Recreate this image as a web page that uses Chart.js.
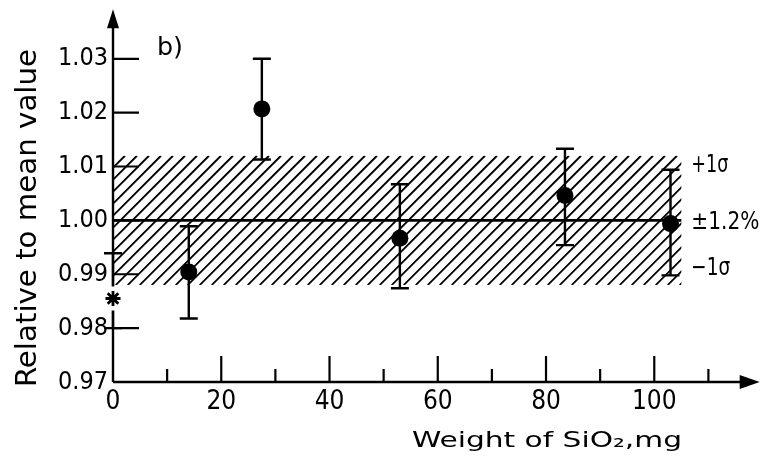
<!DOCTYPE html>
<html>
<head>
<meta charset="utf-8">
<script src="https://cdn.jsdelivr.net/npm/chart.js@4/dist/chart.umd.min.js"></script>
<style>
  html, body { margin: 0; padding: 0; background: #fff; }
  canvas { display: block; }
</style>
</head>
<body>
<canvas id="c" width="762" height="463"></canvas>
<script>
// ---- data ----
const xValues   = [14, 27.5, 53, 83.5, 103];
const yValues   = [0.9904, 1.0207, 0.9967, 1.0046, 0.9994];
const errHigh   = [0.9989, 1.0300, 1.0067, 1.0133, 1.0094];
const errLow    = [0.9818, 1.0113, 0.9874, 0.9954, 0.9898];

const starX     = [0];
const starY     = [0.9855];
const starHigh  = [0.9939];
const starLow   = [0.9800];

const meanValue = 1.00;
const bandHigh  = 1.012;
const bandLow   = 0.988;
const bandEnd   = 105;

const xTickValues  = [0, 20, 40, 60, 80, 100];
const xTickLabels  = ['0', '20', '40', '60', '80', '100'];
const xMinorTicks  = [10, 30, 50, 70, 90, 110];
const yTickValues  = [0.97, 0.98, 0.99, 1.00, 1.01, 1.02, 1.03];
const yTickLabels  = ['0.97', '0.98', '0.99', '1.00', '1.01', '1.02', '1.03'];

const xTitle = 'Weight of SiO\u2082,mg';
const yTitle = 'Relative to mean value';
const panelLabel = 'b)';
const bandLabels = ['+1\u03c3', '\u00b11.2%', '\u22121\u03c3'];
const bandLabelValues = [1.0107, 1.0000, 0.9916];

// ---- styling ----
const FONT = '"Liberation Sans Narrow", "DejaVu Sans Condensed", "Liberation Sans", sans-serif';
const INK = '#000';

function fitText(ctx, text, x, y, width, size, align) {
  ctx.save();
  ctx.font = size + 'px ' + FONT;
  const w = ctx.measureText(text).width;
  const sx = width / w;
  ctx.translate(x, y);
  ctx.scale(sx, 1);
  ctx.textBaseline = 'alphabetic';
  ctx.textAlign = 'left';
  let ox = 0;
  if (align === 'center') ox = -w / 2;
  else if (align === 'right') ox = -w;
  ctx.fillText(text, ox, 0);
  ctx.restore();
}

const drawPlugin = {
  id: 'drawPlugin',
  beforeDatasetsDraw(chart) {
    const ctx = chart.ctx;
    const xs = chart.scales.x, ys = chart.scales.y;
    const x0 = xs.getPixelForValue(0), x1 = xs.getPixelForValue(bandEnd);
    const yt = ys.getPixelForValue(bandHigh), yb = ys.getPixelForValue(bandLow);
    // hatched band
    ctx.save();
    ctx.beginPath();
    ctx.rect(x0, yt, x1 - x0, yb - yt);
    ctx.clip();
    ctx.strokeStyle = INK;
    ctx.lineWidth = 1.8;
    const h = yb - yt;
    ctx.beginPath();
    for (let k = x0 - h; k < x1 + 2; k += 12) {
      ctx.moveTo(k, yb);
      ctx.lineTo(k + h, yt);
    }
    ctx.stroke();
    ctx.restore();
    // mean line
    ctx.save();
    ctx.strokeStyle = INK;
    ctx.lineWidth = 2.6;
    const ym = ys.getPixelForValue(meanValue);
    ctx.beginPath();
    ctx.moveTo(x0, ym); ctx.lineTo(x1, ym);
    ctx.stroke();
    ctx.restore();

    // axes
    ctx.save();
    ctx.strokeStyle = INK;
    ctx.fillStyle = INK;
    ctx.lineWidth = 2.4;
    const ax = xs.getPixelForValue(0);
    const ay = ys.getPixelForValue(0.97);
    const top = chart.chartArea.top;
    const right = chart.chartArea.right;
    ctx.beginPath();
    ctx.moveTo(ax, ay); ctx.lineTo(ax, top + 10);
    ctx.moveTo(ax, ay); ctx.lineTo(right - 10, ay);
    ctx.stroke();
    // arrowheads
    ctx.beginPath();
    ctx.moveTo(ax, top - 1); ctx.lineTo(ax - 6, top + 18); ctx.lineTo(ax + 6, top + 18); ctx.closePath();
    ctx.fill();
    ctx.beginPath();
    ctx.moveTo(right + 8, ay); ctx.lineTo(right - 12, ay - 7); ctx.lineTo(right - 12, ay + 7); ctx.closePath();
    ctx.fill();
    // y ticks (inward)
    ctx.lineWidth = 2.2;
    ctx.beginPath();
    yTickValues.forEach(v => {
      const p = ys.getPixelForValue(v);
      ctx.moveTo(ax, p); ctx.lineTo(ax + 26, p);
    });
    // x major ticks
    xTickValues.forEach(v => {
      if (v === 0) return;
      const p = xs.getPixelForValue(v);
      ctx.moveTo(p, ay); ctx.lineTo(p, ay - 26);
    });
    xMinorTicks.forEach(v => {
      const p = xs.getPixelForValue(v);
      ctx.moveTo(p, ay); ctx.lineTo(p, ay - 13);
    });
    ctx.stroke();

    // error bars
    ctx.lineWidth = 2.4;
    ctx.beginPath();
    const bar = (xv, lo, hi) => {
      const px = xs.getPixelForValue(xv);
      const pl = ys.getPixelForValue(lo), ph = ys.getPixelForValue(hi);
      ctx.moveTo(px, pl); ctx.lineTo(px, ph);
      ctx.moveTo(px - 9, ph); ctx.lineTo(px + 9, ph);
      ctx.moveTo(px - 9, pl); ctx.lineTo(px + 9, pl);
    };
    xValues.forEach((xv, i) => bar(xv, errLow[i], errHigh[i]));
    starX.forEach((xv, i) => bar(xv, starLow[i], starHigh[i]));
    ctx.stroke();
    // gap in axis around the star
    ctx.fillStyle = '#fff';
    starX.forEach((xv, i) => {
      const px = xs.getPixelForValue(xv);
      const py = ys.getPixelForValue(starY[i]);
      ctx.fillRect(px - 4, py - 12, 8, 24);
    });
    ctx.restore();
  },
  afterDraw(chart) {
    const ctx = chart.ctx;
    const xs = chart.scales.x, ys = chart.scales.y;
    ctx.save();
    ctx.fillStyle = INK;
    // y title rotated
    ctx.save();
    ctx.translate(36, 218);
    ctx.rotate(-Math.PI / 2);
    fitText(ctx, yTitle, 0, 0, 338, 28, 'center');
    ctx.restore();
    // x title
    fitText(ctx, xTitle, 412, 447, 270, 22, 'left');
    // panel label
    fitText(ctx, panelLabel, 157, 55, 26, 25, 'left');
    // band labels
    const bx = xs.getPixelForValue(bandEnd) + 10;
    const widths = [37, 68, 39];
    bandLabels.forEach((t, i) => {
      const py = ys.getPixelForValue(bandLabelValues[i]);
      fitText(ctx, t, bx, py + 9, widths[i], 25, 'left');
    });
    ctx.restore();
  }
};

new Chart(document.getElementById('c'), {
  type: 'scatter',
  data: {
    datasets: [
      {
        data: xValues.map((x, i) => ({ x: x, y: yValues[i] })),
        pointStyle: 'circle',
        pointRadius: 8.5,
        backgroundColor: INK,
        borderColor: INK,
        borderWidth: 0
      },
      {
        data: starX.map((x, i) => ({ x: x, y: starY[i] })),
        pointStyle: 'star',
        pointRadius: 7.5,
        backgroundColor: INK,
        borderColor: INK,
        borderWidth: 2.8
      }
    ]
  },
  options: {
    responsive: false,
    animation: false,
    devicePixelRatio: 1,
    clip: false,
    layout: { padding: { top: 9, right: 8, left: 0, bottom: 0 } },
    plugins: { legend: { display: false }, tooltip: { enabled: false } },
    scales: {
      x: {
        type: 'linear',
        min: 0,
        max: 118,
        grid: { display: false, drawTicks: false },
        border: { display: false },
        afterBuildTicks: s => { s.ticks = xTickValues.map(v => ({ value: v })); },
        afterFit: s => { s.height = 81; s.paddingLeft = 0; s.paddingRight = 0; },
        ticks: {
          autoSkip: false,
          maxRotation: 0,
          padding: 5,
          color: INK,
          font: { family: FONT, size: 26 },
          callback: (v) => xTickLabels[xTickValues.indexOf(v)]
        }
      },
      y: {
        type: 'linear',
        min: 0.97,
        max: 1.039,
        grid: { display: false, drawTicks: false },
        border: { display: false },
        afterBuildTicks: s => { s.ticks = yTickValues.map(v => ({ value: v })); },
        afterFit: s => { s.width = 113; s.paddingTop = 0; s.paddingBottom = 0; },
        ticks: {
          autoSkip: false,
          padding: 5,
          color: INK,
          font: { family: FONT, size: 25 },
          callback: (v) => {
            const i = yTickValues.findIndex(t => Math.abs(t - v) < 1e-9);
            return i >= 0 ? yTickLabels[i] : '';
          }
        }
      }
    }
  },
  plugins: [drawPlugin]
});
</script>
</body>
</html>
